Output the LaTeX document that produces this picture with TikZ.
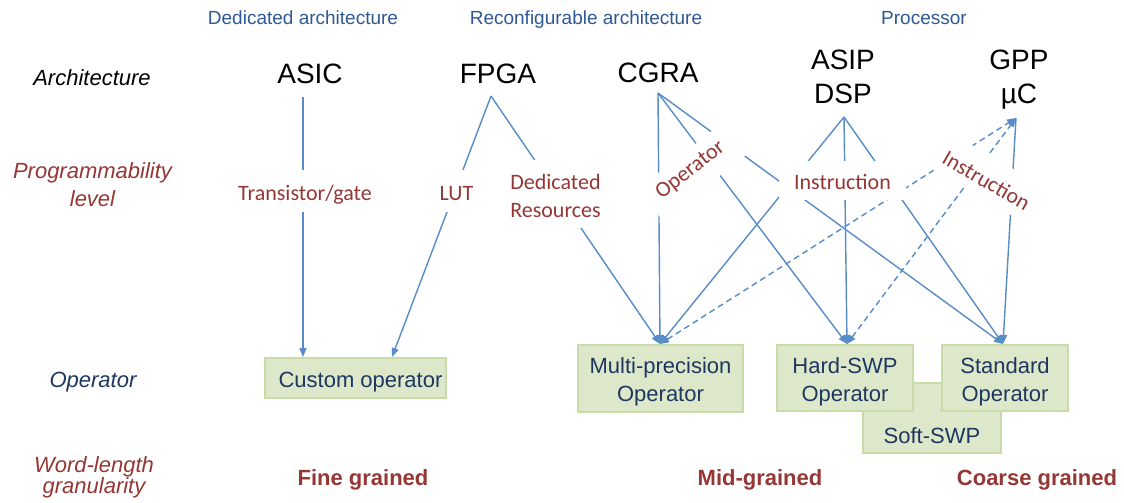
\documentclass[tikz,border=0pt]{standalone}
\usepackage{fontspec}
\setmainfont{Liberation Sans}
\newfontfamily\calib{Carlito}
\usetikzlibrary{arrows.meta}
\definecolor{topblue}{RGB}{46,89,150}
\definecolor{lblred}{RGB}{149,55,53}
\definecolor{opblue}{RGB}{30,55,95}
\definecolor{lineblue}{RGB}{88,140,200}
\definecolor{boxfill}{RGB}{221,232,203}
\definecolor{boxline}{RGB}{200,219,168}
\newcommand\twol[2]{\vtop{\halign{\hfil##\hfil\cr#1\cr#2\cr}}}
\begin{document}
\begin{tikzpicture}[x=1pt,y=-1pt,
  toplbl/.style={anchor=base, text=topblue, font=\fontsize{19}{23}\selectfont, inner sep=0},
  archname/.style={anchor=base, font=\fontsize{28}{34}\selectfont, inner sep=0},
  rowlbl/.style={anchor=base, font=\itshape\fontsize{22}{28.5}\selectfont, inner sep=0},
  prog/.style={fill=white, text=lblred, font=\calib\fontsize{22}{28}\selectfont, inner sep=0},
  opbox/.style={fill=boxfill, draw=boxline, line width=1.5pt, text=opblue, font=\fontsize{22}{28}\selectfont, inner sep=0},
  grain/.style={anchor=base, text=lblred, font=\bfseries\fontsize{22}{28}\selectfont, inner sep=0},
  conn/.style={draw=lineblue, line width=1.4pt, -{Triangle[length=9pt,width=7pt]}},
  dconn/.style={draw=lineblue, line width=1.4pt, dash pattern=on 6pt off 4pt, {Triangle[length=9pt,width=7pt]}-{Triangle[length=9pt,width=7pt]}},
]
\useasboundingbox (0,0) rectangle (1124,503);
\fill[white] (0,0) rectangle (1124,503);

% header labels
\node[toplbl] (hdDed) at (303,25) {Dedicated architecture};
\node[toplbl] (hdRec) at (586,25) {Reconfigurable architecture};
\node[toplbl] (hdProc) at (924,25) {Processor};

% row labels
\node[rowlbl] (lArch) at (92,85) {Architecture};
\node[rowlbl, text=lblred] (lProg) at (92.5,178) {\twol{Programmability}{level}};
\node[rowlbl, text=opblue] (lOp) at (93,387) {Operator};
\node[rowlbl, text=lblred, font=\itshape\fontsize{22}{20}\selectfont] (lWL) at (94,472) {\twol{Word-length}{granularity}};

% architectures
\node[archname] (asic) at (310,83) {ASIC};
\node[archname] (fpga) at (498,83) {FPGA};
\node[archname] (cgra) at (658,82) {CGRA};
\node[archname] (asip) at (843,70) {\twol{ASIP}{DSP}};
\node[archname] (gpp) at (1019,70) {\twol{GPP}{µC}};

% connector end points
\coordinate (asicB) at (303,97);
\coordinate (fpgaB) at (491,96);
\coordinate (cgraB) at (658,93);
\coordinate (asipB) at (844,117);
\coordinate (gppB) at (1016,118);
\coordinate (custA) at (303,357);
\coordinate (custB) at (392,357);
\coordinate (mpT) at (660,344);
\coordinate (hsT) at (847,344);
\coordinate (stT) at (1003,344);

% operator boxes
\node[opbox, minimum width=138, text height=60, text depth=10] (soft) at (932,418) {Soft-SWP};
\node[opbox, minimum width=181, text height=29, text depth=11] (custom) at (355.5,378) {\hspace*{10pt}Custom operator};
\node[opbox, minimum width=165, text height=28, text depth=39] (mp) at (660.5,378.5) {\twol{Multi-precision}{Operator}};
\node[opbox, minimum width=136, text height=28, text depth=38] (hs) at (845,378) {\twol{Hard-SWP}{Operator}};
\node[opbox, minimum width=126, text height=28, text depth=38] (std) at (1005,378) {\twol{Standard}{Operator}};

% connectors
\draw[conn] (asicB) -- (custA);
\draw[conn] (fpgaB) -- (custB);
\draw[conn] (fpgaB) -- (mpT);
\draw[conn] (cgraB) -- (mpT);
\draw[conn] (cgraB) -- (hsT);
\draw[conn] (cgraB) -- (stT);
\draw[conn] (asipB) -- (mpT);
\draw[conn] (asipB) -- (hsT);
\draw[conn] (asipB) -- (stT);
\draw[conn] (gppB) -- (stT);
\draw[dconn] (mpT) -- (gppB);
\draw[dconn] (hsT) -- (gppB);

% programmability labels
\node[prog, minimum width=150, text height=30, text depth=12] (pTrans) at (305,191) {Transistor/gate};
\node[prog, minimum width=49, text height=30, text depth=12] (pLUT) at (456.5,191) {LUT};
\node[prog, minimum width=111, text height=29, text depth=39] (pDed) at (555.5,194) {\twol{Dedicated}{Resources}};
\node[prog, minimum width=127, text height=28, text depth=11] (pInstr) at (842.5,180.5) {Instruction};
\node[prog, minimum width=106, text height=23, text depth=17, rotate=38] (pOp) at (692,172) {Operator};
\node[prog, minimum width=114, text height=31, text depth=10, rotate=-30] (pInstrG) at (988,178) {Instruction};

% granularity
\node[grain] (gFine) at (363,485) {Fine grained};
\node[grain] (gMid) at (760,485) {Mid-grained};
\node[grain] (gCoarse) at (1037,485) {Coarse grained};
\end{tikzpicture}
\end{document}
